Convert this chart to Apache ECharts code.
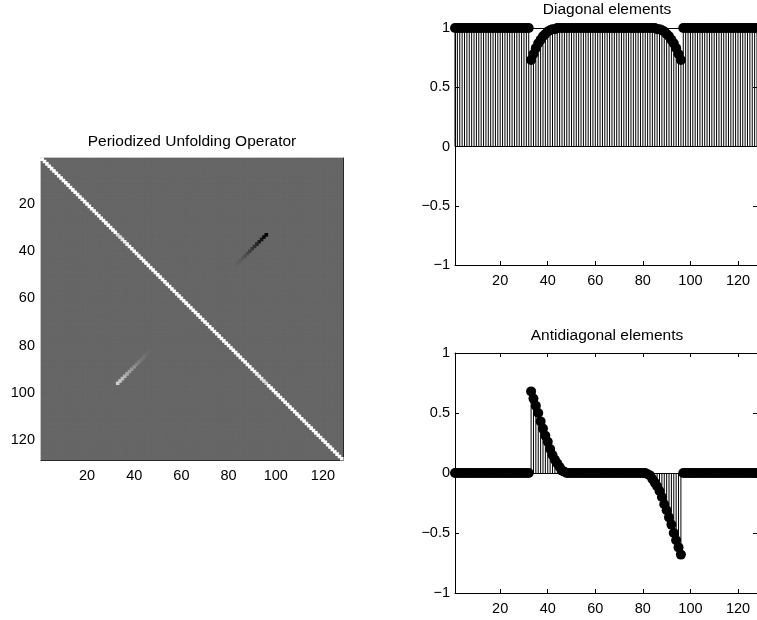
<!DOCTYPE html>
<html><head><meta charset="utf-8">
<script src="https://cdn.jsdelivr.net/npm/echarts@6/dist/echarts.min.js"></script>
<style>html,body{margin:0;padding:0;background:#fff}#c{width:757px;height:620px}</style>
</head><body><div id="c"></div>
<script>
const N = 128;
const xTicks = [20, 40, 60, 80, 100, 120];
const matTicks = [20, 40, 60, 80, 100, 120];
const titles = ['Periodized Unfolding Operator', 'Diagonal elements', 'Antidiagonal elements'];

const diagVals = [
  1,1,1,1,1,1,1,1,1,1,1,1,1,1,1,1,
  1,1,1,1,1,1,1,1,1,1,1,1,1,1,1,1,
  0.73,0.78,0.83,0.87,0.90,0.93,0.95,0.97,0.98,0.99,0.99,1.00,1.00,1.00,1.00,1.00,
  1,1,1,1,1,1,1,1,1,1,1,1,1,1,1,1,
  1,1,1,1,1,1,1,1,1,1,1,1,1,1,1,1,
  1.00,1.00,1.00,1.00,1.00,0.99,0.99,0.98,0.97,0.95,0.93,0.90,0.87,0.83,0.78,0.73,
  1,1,1,1,1,1,1,1,1,1,1,1,1,1,1,1,
  1,1,1,1,1,1,1,1,1,1,1,1,1,1,1,1
];
const antiVals = [
  0,0,0,0,0,0,0,0,0,0,0,0,0,0,0,0,
  0,0,0,0,0,0,0,0,0,0,0,0,0,0,0,0,
  0.68,0.62,0.56,0.50,0.43,0.37,0.31,0.26,0.20,0.15,0.11,0.08,0.05,0.02,0.01,0.00,
  0,0,0,0,0,0,0,0,0,0,0,0,0,0,0,0,
  0,0,0,0,0,0,0,0,0,0,0,0,0,0,0,0,
  -0.00,-0.01,-0.02,-0.05,-0.08,-0.11,-0.15,-0.20,-0.26,-0.31,-0.37,-0.43,-0.50,-0.56,-0.62,-0.68,
  0,0,0,0,0,0,0,0,0,0,0,0,0,0,0,0,
  0,0,0,0,0,0,0,0,0,0,0,0,0,0,0,0
];

// matrix cells built from the diagonal / antidiagonal arrays
const cells = [];
for (let r = 1; r <= N; r++) {
  for (let c = 1; c <= N; c++) {
    let v = 0;
    if (r === c) v = diagVals[c - 1];
    else if (r === N + 1 - c) v = antiVals[c - 1];
    cells.push([c, r, v]);
  }
}
// draw zero cells first so that non-zero cells sit on top
cells.sort((a, b) => Math.abs(a[2]) - Math.abs(b[2]));
let vmin = Infinity, vmax = -Infinity;
cells.forEach(d => { vmin = Math.min(vmin, d[2]); vmax = Math.max(vmax, d[2]); });
function gray(v) {
  const g = Math.round(255 * (v - vmin) / (vmax - vmin));
  return 'rgb(' + g + ',' + g + ',' + g + ')';
}

const diagData = diagVals.map((v, i) => [i + 1, v]);
const antiData = antiVals.map((v, i) => [i + 1, v]);

const FONT = 'Liberation Sans';
const FS = 14.5;
const minus = v => String(v).replace('-', '\u2212');

function xAx(grid, pos, min, max, labels) {
  return {
    type: 'value', gridIndex: grid, position: pos, min: min, max: max,
    axisLine: { show: true, onZero: false, lineStyle: { color: '#000', width: 1 } },
    axisTick: { show: true, inside: true, length: 4, customValues: xTicks, lineStyle: { color: '#000' } },
    axisLabel: { show: labels, customValues: xTicks, color: '#000', fontFamily: FONT, fontSize: FS, margin: 8 },
    splitLine: { show: false }
  };
}
function yMat(pos, labels) {
  return {
    type: 'value', gridIndex: 0, position: pos, min: 0.5, max: 128.5, inverse: true,
    axisLine: { show: true, onZero: false, lineStyle: { color: '#000', width: 1 } },
    axisTick: { show: true, inside: true, length: 4, customValues: matTicks, lineStyle: { color: '#000' } },
    axisLabel: { show: labels, customValues: matTicks, color: '#000', fontFamily: FONT, fontSize: FS, margin: 6 },
    splitLine: { show: false }
  };
}
function yStem(grid, pos, labels) {
  return {
    type: 'value', gridIndex: grid, position: pos, min: -1, max: 1, interval: 0.5,
    axisLine: { show: true, onZero: false, lineStyle: { color: '#000', width: 1 } },
    axisTick: { show: true, inside: true, length: 4, lineStyle: { color: '#000' } },
    axisLabel: { show: labels, color: '#000', fontFamily: FONT, fontSize: FS, margin: 5, formatter: minus },
    splitLine: { show: false }
  };
}

function stemSeries(xi, data) {
  return [{
    type: 'bar', xAxisIndex: xi, yAxisIndex: xi, data: data, barWidth: 1,
    itemStyle: { color: '#000', opacity: 1 }, silent: true, z: 2,
    markLine: { symbol: 'none', silent: true, label: { show: false }, animation: false,
      lineStyle: { color: '#000', width: 1, type: 'solid' }, data: [{ yAxis: 0 }] }
  }, {
    type: 'scatter', xAxisIndex: xi, yAxisIndex: xi, data: data, symbol: 'circle', symbolSize: 10,
    itemStyle: { color: '#000', opacity: 1 }, silent: true, z: 3
  }];
}

const chart = echarts.init(document.getElementById('c'), null, { renderer: 'canvas' });
chart.setOption({
  animation: false,
  backgroundColor: '#fff',
  grid: [
    { left: 41, top: 158, width: 302, height: 302, show: true, backgroundColor: gray(0), borderWidth: 0 },
    { left: 455, top: 28, width: 303, height: 237 },
    { left: 455, top: 353, width: 303, height: 240 }
  ],
  xAxis: [
    xAx(0, 'bottom', 0.5, 128.5, true), xAx(0, 'top', 0.5, 128.5, false),
    xAx(1, 'bottom', 1, 128, true), xAx(1, 'top', 1, 128, false),
    xAx(2, 'bottom', 1, 128, true), xAx(2, 'top', 1, 128, false)
  ],
  yAxis: [
    yMat('left', true), yMat('right', false),
    yStem(1, 'left', true), yStem(1, 'right', false),
    yStem(2, 'left', true), yStem(2, 'right', false)
  ],
  graphic: [
    { type: 'text', x: 192, y: 142, style: { text: titles[0], textAlign: 'center', textVerticalAlign: 'middle', font: '15.5px "' + FONT + '"', fill: '#000' } },
    { type: 'text', x: 607, y: 10, style: { text: titles[1], textAlign: 'center', textVerticalAlign: 'middle', font: '15.5px "' + FONT + '"', fill: '#000' } },
    { type: 'text', x: 607, y: 336, style: { text: titles[2], textAlign: 'center', textVerticalAlign: 'middle', font: '15.5px "' + FONT + '"', fill: '#000' } }
  ],
  series: [
    {
      type: 'custom', xAxisIndex: 0, yAxisIndex: 0, data: cells, silent: true, clip: true,
      renderItem: function (params, api) {
        const c = api.coord([api.value(0) - 0.5, api.value(1) - 0.5]);
        const s = api.size([1, 1]);
        const v = api.value(2);
        const col = gray(v);
        return { type: 'rect', shape: { x: c[0], y: c[1], width: s[0], height: s[1] },
          style: { fill: col, stroke: col, lineWidth: v === 0 ? 0.8 : 1.2 } };
      }
    }
  ].concat(stemSeries(2, diagData)).concat(stemSeries(4, antiData))
});
</script>
</body></html>
